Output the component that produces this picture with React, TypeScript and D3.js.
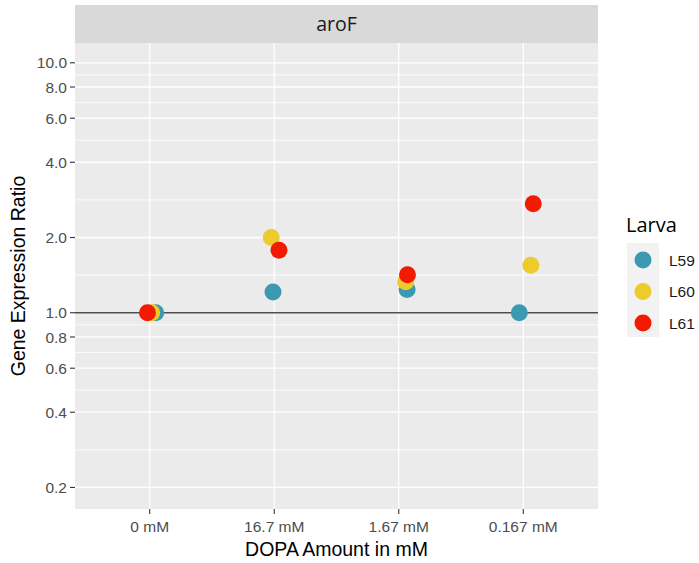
import React from "react";
import * as d3 from "d3";

const categories = ["0 mM", "16.7 mM", "1.67 mM", "0.167 mM"];
const larvae = ["L59", "L60", "L61"];
const colors = ["#3B9AB2", "#EBCC2A", "#F21A00"];
const L59 = [1.0, 1.21, 1.24, 1.0];
const L60 = [1.0, 2.0, 1.33, 1.55];
const L61 = [1.0, 1.78, 1.42, 2.73];
// horizontal jitter (in category units)
const jitL59 = [0.048, -0.01, 0.067, -0.032];
const jitL60 = [0.016, -0.024, 0.056, 0.061];
const jitL61 = [-0.018, 0.038, 0.07, 0.08];
const yBreaks = [0.2, 0.4, 0.6, 0.8, 1.0, 2.0, 4.0, 6.0, 8.0, 10.0];
const panelTitle = "aroF";

const series = [
  { name: larvae[0], values: L59, jit: jitL59, color: colors[0] },
  { name: larvae[1], values: L60, jit: jitL60, color: colors[1] },
  { name: larvae[2], values: L61, jit: jitL61, color: colors[2] },
];

export default function App() {
  const W = 699, H = 563;
  const left = 75, right = 598, top = 43, bottom = 509, stripTop = 5;
  const x = d3.scaleLinear().domain([-0.6, categories.length - 1 + 0.6]).range([left, right]);
  const y = d3.scaleLog().domain([0.164, 12.0]).range([bottom, top]);
  const minor: number[] = [];
  for (let i = 0; i < yBreaks.length - 1; i++) {
    minor.push(Math.sqrt(yBreaks[i] * yBreaks[i + 1]));
  }
  const tickFont = "Liberation Sans, Arial, sans-serif";
  const titleFont = "Open Sans, sans-serif";
  return (
    <svg width={W} height={H} style={{ position: "absolute", left: 0, top: 0, background: "#fff" }}>
      {/* strip */}
      <rect x={left} y={stripTop} width={right - left} height={top - stripTop} fill="#D9D9D9" />
      <text x={(left + right) / 2} y={31} textAnchor="middle" fontFamily={titleFont} fontSize={19.5} fill="#1A1A1A">
        {panelTitle}
      </text>
      {/* panel */}
      <rect x={left} y={top} width={right - left} height={bottom - top} fill="#EBEBEB" />
      {minor.map((v, i) => (
        <line key={"mn" + i} x1={left} x2={right} y1={y(v)} y2={y(v)} stroke="#fff" strokeWidth={0.8} />
      ))}
      {yBreaks.map((v, i) => (
        <line key={"mj" + i} x1={left} x2={right} y1={y(v)} y2={y(v)} stroke="#fff" strokeWidth={1.3} />
      ))}
      {categories.map((c, i) => (
        <line key={"vx" + i} x1={x(i)} x2={x(i)} y1={top} y2={bottom} stroke="#fff" strokeWidth={1.3} />
      ))}
      <line x1={left} x2={right} y1={y(1)} y2={y(1)} stroke="#4D4D4D" strokeWidth={1.3} />
      {series.map((s) =>
        s.values.map((v, i) => (
          <circle key={s.name + i} cx={x(i + s.jit[i])} cy={y(v)} r={8.5} fill={s.color} />
        ))
      )}
      {/* y axis */}
      {yBreaks.map((v, i) => (
        <g key={"yt" + i}>
          <line x1={left - 5} x2={left} y1={y(v)} y2={y(v)} stroke="#333" strokeWidth={1.1} />
          <text x={left - 8} y={y(v)} dy="0.36em" textAnchor="end" fontFamily={tickFont} fontSize={15.5} fill="#4D4D4D">
            {v.toFixed(1)}
          </text>
        </g>
      ))}
      {/* x axis */}
      {categories.map((c, i) => (
        <g key={"xt" + i}>
          <line x1={x(i)} x2={x(i)} y1={bottom} y2={bottom + 5} stroke="#333" strokeWidth={1.1} />
          <text x={x(i)} y={532} textAnchor="middle" fontFamily={tickFont} fontSize={15.5} fill="#4D4D4D">
            {c}
          </text>
        </g>
      ))}
      <text x={(left + right) / 2} y={556} textAnchor="middle" fontFamily={tickFont} fontSize={19.5} fill="#000">
        DOPA Amount in mM
      </text>
      <text
        transform={`translate(25,${(top + bottom) / 2}) rotate(-90)`}
        textAnchor="middle"
        fontFamily={tickFont}
        fontSize={19.5}
        fill="#000"
      >
        Gene Expression Ratio
      </text>
      {/* legend */}
      <text x={626} y={232} fontFamily={titleFont} fontSize={20} fill="#000">
        Larva
      </text>
      <rect x={627} y={243} width={32} height={94} fill="#F2F2F2" />
      {series.map((s, i) => (
        <g key={"lg" + i}>
          <circle cx={643} cy={260 + i * 31.5} r={8.5} fill={s.color} />
          <text x={669} y={260 + i * 31.5} dy="0.36em" fontFamily={tickFont} fontSize={15.5} fill="#1A1A1A">
            {s.name}
          </text>
        </g>
      ))}
    </svg>
  );
}
